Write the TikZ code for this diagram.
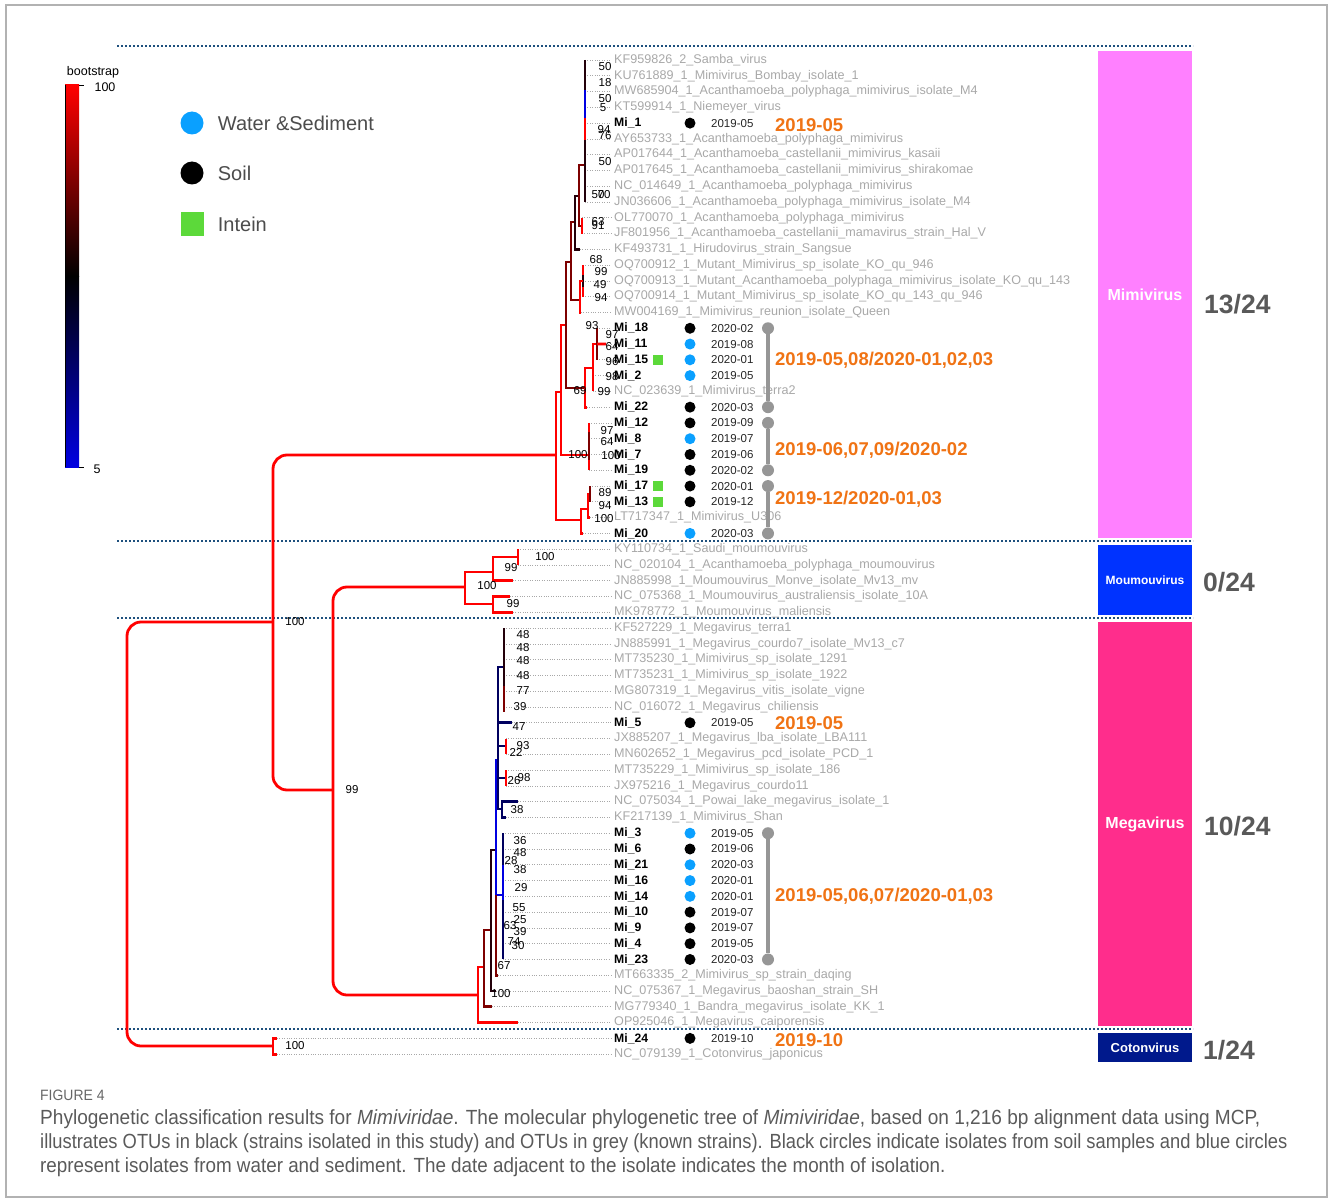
\documentclass[tikz,border=0pt]{standalone}
\usepackage{fontspec}
\setmainfont{Liberation Sans}
\newfontfamily\capfont[FakeStretch=0.93]{Liberation Sans}
\newcommand\fs[1]{\fontsize{#1}{#1}\selectfont}
\usetikzlibrary{positioning}

% bootstrap colours, red = 100, blue = 5
\definecolor{bs100}{RGB}{255,0,0}
\definecolor{bs70}{RGB}{125,0,0}
\definecolor{bs50}{RGB}{35,0,10}
\definecolor{bs30}{RGB}{0,0,95}
\definecolor{bs10}{RGB}{0,0,225}
\definecolor{soil}{RGB}{0,0,0}
\definecolor{water}{RGB}{10,160,255}
\definecolor{intein}{RGB}{92,217,58}
\definecolor{month}{RGB}{240,115,20}
\definecolor{known}{RGB}{168,168,168}
\definecolor{sepblue}{RGB}{30,80,125}
\definecolor{pingrey}{RGB}{150,150,150}
\definecolor{mimi}{RGB}{255,128,255}
\definecolor{moumou}{RGB}{0,51,255}
\definecolor{mega}{RGB}{255,45,140}
\definecolor{coton}{RGB}{0,25,140}
\definecolor{capgrey}{RGB}{90,90,90}

\begin{document}
\begin{tikzpicture}[x=1pt,y=-1pt,
    br/.style={line width=2.8pt},
    deep/.style={br, bs100, rounded corners=14pt},
    leader/.style={known, line width=0.7pt, dash pattern=on 1pt off 1.4pt},
    oldlab/.style={anchor=west, inner sep=0, text=known, font=\fs{12.6}},
    milab/.style={anchor=west, inner sep=0, font=\bfseries\fs{12.2}},
    datelab/.style={anchor=west, inner sep=0, text=black!85, font=\fs{11.5}},
    src/.style={circle, inner sep=0, minimum size=11pt},
    inteinbox/.style={fill=intein, inner sep=0, minimum size=10pt},
    bsv/.style={inner sep=0, font=\fs{11.5}},
    monthlab/.style={anchor=west, inner sep=0, text=month, font=\bfseries\fs{18.5}},
    pinend/.style={circle, fill=pingrey, inner sep=0, minimum size=12pt},
    sepline/.style={sepblue, line width=2.4pt, dash pattern=on 2pt off 2pt},
    clade/.style={minimum width=94pt, inner sep=0, text=white, font=\bfseries\fs{16}},
    frac/.style={anchor=west, inner sep=0, text=black!65, font=\bfseries\fs{26.5}},
    legtext/.style={anchor=west, inner sep=0, text=black!70, font=\fs{20}},
    capline/.style={anchor=west, inner sep=0, text=capgrey, font=\capfont\fs{20.5}}]
\useasboundingbox (0,0) rectangle (1330,1201);
\draw[black!30, line width=1.5pt] (6,5) rectangle (1327,1197);

% group separators and clade bars
\foreach \sy in {46,541,618,1029}
    \draw[sepline] (117,\sy) -- (1193,\sy);
\node[clade, fill=mimi, minimum height=487pt] (cMimi) at (1145,294.5) {Mimivirus};
\node[clade, fill=moumou, minimum height=70pt, font=\bfseries\fs{12}] (cMou) at (1145,580) {Moumouvirus};
\node[clade, fill=mega, minimum height=404pt] (cMeg) at (1145,824) {Megavirus};
\node[clade, fill=coton, minimum height=29pt, font=\bfseries\fs{13}] (cCot) at (1145,1047.5) {Cotonvirus};
\node[frac] (fMimi) at (1204,304) {13/24};
\node[frac] (fMou) at (1203,582) {0/24};
\node[frac] (fMeg) at (1204,826) {10/24};
\node[frac] (fCot) at (1203,1050) {1/24};

% bootstrap colour bar
\shade[top color=bs100, bottom color=black] (65,85) rectangle (79,276);
\shade[top color=black, bottom color=bs10] (65,276) rectangle (79,467);
\draw[black, line width=0.8pt] (65,85) -- (65,467) (79,85) -- (84,85) (79,467) -- (84,467);
\node[inner sep=0, font=\fs{12.5}] (bsTitle) at (93,72) {bootstrap};
\node[inner sep=0, font=\fs{12.5}] (bsTop) at (105,87) {100};
\node[inner sep=0, font=\fs{12.5}] (bsBot) at (97,469) {5};

% legend
\node[src, fill=water, minimum size=23pt] (lw) at (192,123) {};
\node[legtext, right=14pt of lw] (lwt) {Water \&Sediment};
\node[src, fill=soil, minimum size=23pt] (ls) at (192,173) {};
\node[legtext, right=14pt of ls] (lst) {Soil};
\node[inteinbox, minimum size=23pt] (li) at (192,224) {};
\node[legtext, right=14pt of li] (lit) {Intein};

% known strains (grey)
\foreach \i/\tx/\lab in {
    1/585/KF959826\_2\_Samba\_virus,
    2/585/KU761889\_1\_Mimivirus\_Bombay\_isolate\_1,
    3/585/MW685904\_1\_Acanthamoeba\_polyphaga\_mimivirus\_isolate\_M4,
    4/585/KT599914\_1\_Niemeyer\_virus,
    6/585/AY653733\_1\_Acanthamoeba\_polyphaga\_mimivirus,
    7/585/AP017644\_1\_Acanthamoeba\_castellanii\_mimivirus\_kasaii,
    8/585/AP017645\_1\_Acanthamoeba\_castellanii\_mimivirus\_shirakomae,
    9/585/NC\_014649\_1\_Acanthamoeba\_polyphaga\_mimivirus,
    10/585/JN036606\_1\_Acanthamoeba\_polyphaga\_mimivirus\_isolate\_M4,
    11/582/OL770070\_1\_Acanthamoeba\_polyphaga\_mimivirus,
    12/582/JF801956\_1\_Acanthamoeba\_castellanii\_mamavirus\_strain\_Hal\_V,
    13/580/KF493731\_1\_Hirudovirus\_strain\_Sangsue,
    14/583/OQ700912\_1\_Mutant\_Mimivirus\_sp\_isolate\_KO\_qu\_946,
    15/583/OQ700913\_1\_Mutant\_Acanthamoeba\_polyphaga\_mimivirus\_isolate\_KO\_qu\_143,
    16/583/OQ700914\_1\_Mutant\_Mimivirus\_sp\_isolate\_KO\_qu\_143\_qu\_946,
    17/581/MW004169\_1\_Mimivirus\_reunion\_isolate\_Queen,
    22/593/NC\_023639\_1\_Mimivirus\_terra2,
    30/590/LT717347\_1\_Mimivirus\_U306,
    32/518/KY110734\_1\_Saudi\_moumouvirus,
    33/518/NC\_020104\_1\_Acanthamoeba\_polyphaga\_moumouvirus,
    34/513/JN885998\_1\_Moumouvirus\_Monve\_isolate\_Mv13\_mv,
    35/510/NC\_075368\_1\_Moumouvirus\_australiensis\_isolate\_10A,
    36/513/MK978772\_1\_Moumouvirus\_maliensis,
    37/504/KF527229\_1\_Megavirus\_terra1,
    38/504/JN885991\_1\_Megavirus\_courdo7\_isolate\_Mv13\_c7,
    39/504/MT735230\_1\_Mimivirus\_sp\_isolate\_1291,
    40/504/MT735231\_1\_Mimivirus\_sp\_isolate\_1922,
    41/504/MG807319\_1\_Megavirus\_vitis\_isolate\_vigne,
    42/504/NC\_016072\_1\_Megavirus\_chiliensis,
    44/506/JX885207\_1\_Megavirus\_lba\_isolate\_LBA111,
    45/506/MN602652\_1\_Megavirus\_pcd\_isolate\_PCD\_1,
    46/506/MT735229\_1\_Mimivirus\_sp\_isolate\_186,
    47/506/JX975216\_1\_Megavirus\_courdo11,
    48/518/NC\_075034\_1\_Powai\_lake\_megavirus\_isolate\_1,
    49/506/KF217139\_1\_Mimivirus\_Shan,
    59/498/MT663335\_2\_Mimivirus\_sp\_strain\_daqing,
    60/496/NC\_075367\_1\_Megavirus\_baoshan\_strain\_SH,
    61/492/MG779340\_1\_Bandra\_megavirus\_isolate\_KK\_1,
    62/518/OP925046\_1\_Megavirus\_caiporensis,
    64/277/NC\_079139\_1\_Cotonvirus\_japonicus}{
  \pgfmathsetmacro\yy{60+(\i-1)*15.78}
  \node[oldlab] (L\i) at (614,\yy) {\lab};
  \coordinate (t\i) at (\tx,\yy);
  \draw[leader] (t\i) -- ([xshift=-3pt]L\i.west);
}

% isolates of this study: label, source, date
\foreach \i/\tx/\n/\dc/\dt in {
    5/585/1/soil/2019-05, 18/597/18/soil/2020-02, 19/606/11/water/2019-08,
    20/597/15/water/2020-01, 21/593/2/water/2019-05, 23/587/22/soil/2020-03,
    24/589/12/soil/2019-09, 25/589/8/water/2019-07, 26/589/7/soil/2019-06,
    27/589/19/soil/2020-02, 28/590/17/soil/2020-01, 29/590/13/soil/2019-12,
    31/583/20/water/2020-03, 43/512/5/soil/2019-05, 50/503/3/water/2019-05,
    51/503/6/soil/2019-06, 52/503/21/water/2020-03, 53/503/16/water/2020-01,
    54/503/14/water/2020-01, 55/503/10/soil/2019-07, 56/503/9/soil/2019-07,
    57/503/4/soil/2019-05, 58/503/23/soil/2020-03, 63/277/24/soil/2019-10}{
  \pgfmathsetmacro\yy{60+(\i-1)*15.78}
  \node[milab] (L\i) at (614,\yy) {Mi\_\n};
  \node[src, fill=\dc] (s\i) at (690,\yy) {};
  \node[datelab] (D\i) at (711,\yy) {\dt};
  \coordinate (t\i) at (\tx,\yy);
  \draw[leader] (t\i) -- ([xshift=-3pt]L\i.west);
}
\node[inteinbox, right=4pt of L20] (g20) {};
\node[inteinbox, right=4pt of L28] (g28) {};
\node[inteinbox, right=4pt of L29] (g29) {};

% month ranges
\foreach \a/\b [count=\k] in {18/23, 24/27, 28/31, 50/58}{
  \node[pinend] (pa\k) at (768,{60+(\a-1)*15.78}) {};
  \node[pinend] (pb\k) at (768,{60+(\b-1)*15.78}) {};
  \draw[pingrey, line width=4pt] (pa\k) -- (pb\k);
}
\node[monthlab] (o1) at (775,125) {2019-05};
\node[monthlab] (o2) at (775,360) {2019-05,08/2020-01,02,03};
\node[monthlab] (o3) at (775,450) {2019-06,07,09/2020-02};
\node[monthlab] (o4) at (775,499) {2019-12/2020-01,03};
\node[monthlab] (o5) at (775,723) {2019-05};
\node[monthlab] (o6) at (775,896) {2019-05,06,07/2020-01,03};
\node[monthlab] (o7) at (775,1040) {2019-10};

% deep nodes
\coordinate (root) at (127,834);
\coordinate (nA) at (273,622);
\coordinate (nB) at (333,790);
\coordinate (nCot) at (273,1046);
\coordinate (nMimi) at (556,455);
\coordinate (nMou) at (465,587);
\coordinate (nMeg) at (478,995);
\draw[deep] (nA) -| (root) |- (nCot);
\draw[deep] (nMimi) -| (nA) |- (nB);
\draw[deep] (nMou) -| (nB) |- (nMeg);
\draw[br, bs100] (t63) -| (nCot) |- (t64);

% Mimivirus clade
\coordinate (mA) at (561,392);
\coordinate (mB) at (566,325);
\coordinate (mT5) at (571,262);
\coordinate (mT4) at (575,222);
\coordinate (mT3) at (579,196);
\coordinate (mT1) at (585,165);
\coordinate (mT2) at (582,226);
\coordinate (mK2) at (580,300);
\coordinate (mK1) at (583,281);
\coordinate (mG3) at (585,388);
\coordinate (mG2) at (593,368);
\coordinate (mG1) at (597,344);
\coordinate (mH) at (589,455);
\coordinate (mI) at (581,520);
\coordinate (mJ) at (588,509);
\coordinate (mQ) at (590,494);
\draw[br, bs100] (mA) -| (nMimi) |- (mI);
\draw[br, bs100] (mB) -| (mA) |- (mH);
\draw[br, bs70] (mT5) -| (mB) |- (mG3);
\draw[br, bs70] (mT4) -| (mT5) |- (mK2);
\draw[br, bs50] (mT3) -| (mT4) |- (t13);
\draw[br, bs70] (mT1) -| (mT3) |- (mT2);
\draw[br, bs50] (t1) -- (585,90);
\draw[br, bs10] (585,90) -- (585,118);
\draw[br, bs100] (585,118) -- (585,140);
\draw[br, bs50] (585,140) -- (t10);
\draw[br, bs100] (t11) -- (t12);
\draw[br, bs100] (t14) -- (t16);
\draw[br, bs50] (583,275) -- (583,287);
\draw[br, bs100] (mK1) -| (mK2) |- (t17);
\draw[br, bs100] (mG2) -| (mG3) |- (t23);
\draw[br, bs100] (mG1) -| (t22);
\draw[br, bs70] (t18) -- (t20);
\draw[br, bs100] (mG1) -- (t19);
\draw[br, bs100] (t24) -- (t27);
\draw[br, bs70] (589,432) -- (589,460);
\draw[br, bs100] (mJ) -| (mI) |- (t31);
\draw[br, bs100] (mQ) -| (mJ) |- (t30);
\draw[br, bs70] (t28) -- (t29);

% Moumouvirus clade
\coordinate (oA) at (493,572);
\coordinate (oB) at (493,604);
\coordinate (oC) at (518,557);
\draw[br, bs100] (oA) -| (nMou) |- (oB);
\draw[br, bs100] (oC) -| (oA) |- (t34);
\draw[br, bs100] (t32) -- (t33);
\draw[br, bs100] (t35) -| (oB) |- (t36);

% Megavirus clade
\coordinate (eA) at (484,967);
\coordinate (eB) at (491,930);
\coordinate (eC) at (496,850);
\coordinate (eD) at (498,760);
\coordinate (eE) at (503,895);
\coordinate (eF) at (504,667);
\coordinate (eG) at (506,746);
\coordinate (eH) at (506,778);
\coordinate (eI) at (502,809);
\draw[br, bs100] (eA) -| (nMeg) |- (t62);
\draw[br, bs70] (eB) -| (eA) |- (t61);
\draw[br, bs50] (eC) -| (eB) |- (t60);
\draw[br, bs10] (eD) -| (eC) |- (eE);
\draw[br, bs70] (eE -| eC) |- (t59);
\draw[br, bs30] (eF) -| (eD) |- (eI);
\draw[br, bs30] (eD |- t43) -- (t43);
\draw[br, bs30] (eD |- eG) -- (eG);
\draw[br, bs30] (eD |- eH) -- (eH);
\draw[br, bs50] (t37) -- (t42);
\draw[br, bs70] (504,686) -- (504,712);
\draw[br, bs100] (t44) -- (t45);
\draw[br, bs100] (t46) -- (t47);
\draw[br, bs30] (t48) -| (eI) |- (t49);
\draw[br, bs30] (t50) -- (t52);
\draw[br, bs10] (t52) -- (503,900);
\draw[br, bs30] (503,900) -- (t58);

% bootstrap values
\foreach \bx/\by/\bv [count=\k] in {
    605/67/50, 605/83/18, 605/99/50, 603/108/5, 604/130/94, 605/136/76,
    605/162/50, 598/195/50, 604/195/70, 598/222/63, 598/226/91, 596/260/68,
    601/272/99, 600/285/49, 601/298/94, 592/326/93, 612/335/97, 612/347/64,
    612/362/96, 612/377/98, 580/391/69, 604/392/99, 607/431/97, 607/442/64,
    578/455/100, 611/456/100, 605/493/89, 605/506/94, 604/519/100,
    545/557/100, 511/568/99, 487/586/100, 513/604/99,
    295/622/100, 352/790/99, 295/1046/100,
    523/635/48, 523/648/48, 523/661/48, 523/676/48, 523/691/77, 520/707/39,
    519/727/47, 523/746/93, 516/752/22, 524/778/98, 514/781/26, 517/810/38,
    520/841/36, 520/853/48, 511/861/28, 520/870/38, 521/888/29, 519/908/55,
    520/920/25, 510/926/63, 520/932/39, 514/942/74, 518/946/30, 504/966/67,
    501/994/100}
  \node[bsv] (bs\k) at (\bx,\by) {\bv};

% caption
\node[anchor=west, inner sep=0, text=black!60, font=\capfont\fs{15}] (fig) at (40,1095) {FIGURE 4};
\node[capline] (cap1) at (40,1119)
  {Phylogenetic classification results for \textit{Mimiviridae}. The molecular phylogenetic tree of \textit{Mimiviridae}, based on 1,216 bp alignment data using MCP,};
\node[capline] (cap2) at (40,1143)
  {\scalebox{0.962}[1]{illustrates OTUs in black (strains isolated in this study) and OTUs in grey (known strains). Black circles indicate isolates from soil samples and blue circles}};
\node[capline] (cap3) at (40,1167)
  {\scalebox{0.988}[1]{represent isolates from water and sediment. The date adjacent to the isolate indicates the month of isolation.}};
\end{tikzpicture}
\end{document}
